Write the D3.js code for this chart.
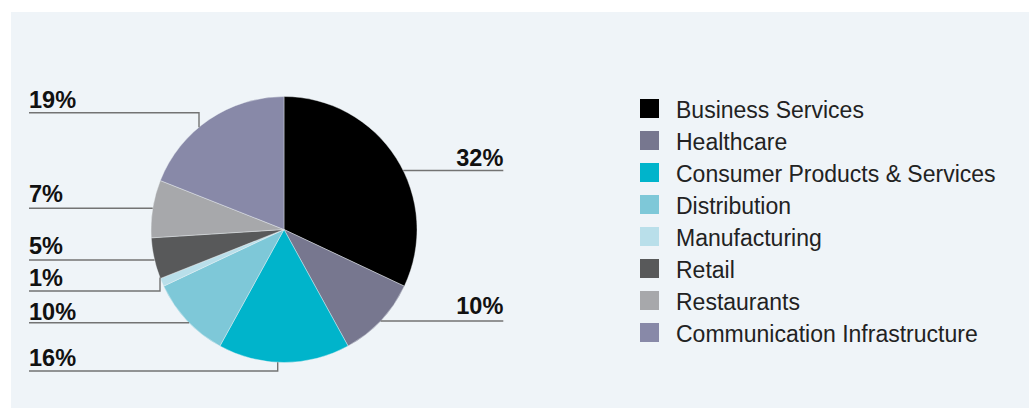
<!DOCTYPE html>
<html>
<head>
<meta charset="utf-8">
<script src="https://cdn.jsdelivr.net/npm/d3@7"></script>
<style>
  html, body { margin: 0; padding: 0; background: #ffffff; }
  #graf { width: 1029px; height: 408px; }
  text { font-family: "Liberation Sans", Helvetica, Arial, sans-serif; }
</style>
</head>
<body>
<div id="graf"></div>
<script>
// datos
sectores = ['Business Services', 'Healthcare', 'Consumer Products & Services', 'Distribution',
            'Manufacturing', 'Retail', 'Restaurants', 'Communication Infrastructure']
porcentajes = [32, 10, 16, 10, 1, 5, 7, 19]
colores = ['#000000', '#77778f', '#00b4cb', '#7ec8d8', '#b9dfea', '#58595a', '#a7a8ab', '#8889a8']

// posición de las etiquetas: lado, y de la línea, y del texto, codo opcional
etiquetaLado  = ['right', 'right', 'left', 'left', 'left', 'left', 'left', 'left']
etiquetaLineaY = [170.5, 321, 371, 322.7, 291, 260, 208.3, 112.7]
etiquetaTextoY = [165.5, 313.5, 366, 320, 285.5, 253.5, 201.7, 107.5]
etiquetaCodoX  = [null, null, 277.7, null, 160, null, null, 199]

ancho_total = 1029
alto_total  = 408

svg = d3.select('#graf').append('svg')
        .attr('width', ancho_total)
        .attr('height', alto_total)

// fondo
svg.append('rect')
   .attr('x', 11).attr('y', 12)
   .attr('width', ancho_total - 11)
   .attr('height', alto_total - 12)
   .attr('fill', '#eff4f8')

cx = 284
cy = 229.5
radio = 133

data = sectores.map((s, i) => ({ sector: s, valor: porcentajes[i], color: colores[i], i: i }))

pie = d3.pie().sort(null).value(d => d.valor)
arcos = pie(data)
arcGen = d3.arc().innerRadius(0).outerRadius(radio)

g = svg.append('g').attr('transform', `translate(${cx}, ${cy})`)

g.selectAll('path')
  .data(arcos)
  .enter()
  .append('path')
  .attr('d', arcGen)
  .attr('fill', d => d.data.color)
  .attr('stroke', '#eff4f8')
  .attr('stroke-width', 0.4)

// líneas guía y etiquetas
xIzq = 29
xDer = 503.3

arcos.forEach((a, i) => {
  lineaY = etiquetaLineaY[i]
  lado = etiquetaLado[i]
  xTexto = lado == 'left' ? xIzq : xDer
  pts = []
  if (etiquetaCodoX[i] != null) {
    // codo: horizontal hasta codoX y luego vertical hasta el borde del pastel
    codo = etiquetaCodoX[i]
    dx = codo - cx
    dy = Math.sqrt(radio * radio - dx * dx)
    yBorde = lineaY > cy ? cy + dy : cy - dy
    pts = [[xTexto, lineaY], [codo, lineaY], [codo, yBorde]]
  } else {
    dy = lineaY - cy
    dx = Math.sqrt(radio * radio - dy * dy)
    xBorde = lado == 'left' ? cx - dx : cx + dx
    pts = [[xTexto, lineaY], [xBorde, lineaY]]
  }
  svg.append('path')
     .attr('d', d3.line()(pts))
     .attr('fill', 'none')
     .attr('stroke', '#737373')
     .attr('stroke-width', 1.4)

  svg.append('text')
     .attr('x', xTexto)
     .attr('y', etiquetaTextoY[i])
     .attr('text-anchor', lado == 'left' ? 'start' : 'end')
     .attr('font-size', '23.5px')
     .attr('font-weight', 'bold')
     .attr('fill', '#111111')
     .text(a.data.valor + '%')
})

// leyenda
leyenda = svg.append('g').attr('transform', 'translate(640, 99)')

items = leyenda.selectAll('g')
  .data(data)
  .enter()
  .append('g')
  .attr('transform', (d, i) => `translate(0, ${i * 32})`)

items.append('rect')
  .attr('width', 19)
  .attr('height', 19)
  .attr('fill', d => d.color)

items.append('text')
  .attr('x', 36)
  .attr('y', 18.7)
  .attr('font-size', '23px')
  .attr('fill', '#222222')
  .text(d => d.sector)
</script>
</body>
</html>
